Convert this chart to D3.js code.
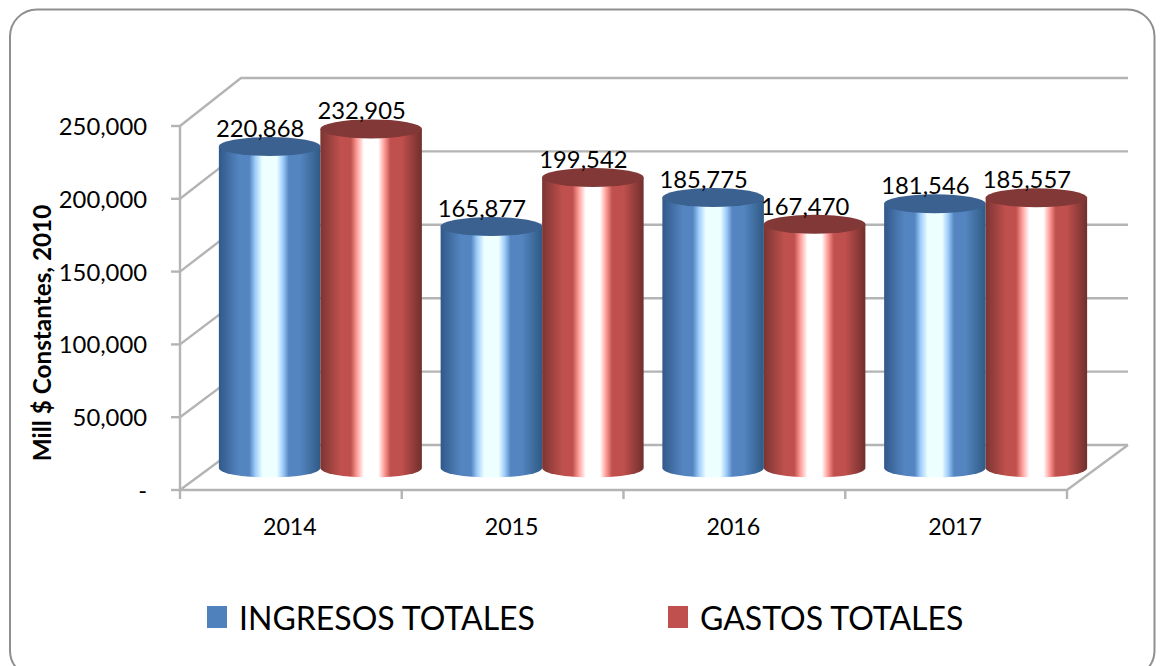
<!DOCTYPE html>
<html><head><meta charset="utf-8">
<script src="https://cdn.jsdelivr.net/npm/d3@7"></script>
<style>html,body{margin:0;padding:0;background:#fff}svg{display:block}text{font-family:Lato,"Open Sans",sans-serif;fill:#000}</style>
</head><body><svg id="c" width="1160" height="666"></svg>
<script>
const years=["2014","2015","2016","2017"];
const seriesNames=["INGRESOS TOTALES","GASTOS TOTALES"];
const ingresos=[220868,165877,185775,181546];
const gastos=[232905,199542,167470,185557];
const yTicks=[0,50000,100000,150000,200000,250000];
const yTickLabels=["-","50,000","100,000","150,000","200,000","250,000"];
const yTitle="Mill $ Constantes, 2010";
const fmt=d3.format(",");

const svg=d3.select("#c");
const depth={x:61};
const yFront=d3.scaleLinear().domain([0,250000]).range([490,126]);
const yBack=d3.scaleLinear().domain([0,250000]).range([445,78]);
const yBar=d3.scaleLinear().domain([0,250000]).range([468,104]);
const xFront=d3.scaleBand().domain(years).range([180,1067]);
const xSeries=d3.scaleBand().domain([0,1]).range([0,203]);
const ry=9.5;

const defs=svg.append("defs");
function grad(id,edgeL,mid,lite,white,edgeR){
  const g=defs.append("linearGradient").attr("id",id).attr("x1","0").attr("x2","1").attr("y1","0").attr("y2","0");
  [[0,edgeL],[.2,mid],[.30,mid],[.36,lite],[.43,white],[.57,white],[.63,lite],[.69,mid],[.8,mid],[1,edgeR]]
    .forEach(s=>g.append("stop").attr("offset",s[0]).attr("stop-color",s[1]));
}
grad("gBlue","#31588a","#5485c0","#9fcdfb","#eeffff","#2f5a85");
grad("gRed","#7b3533","#c0504d","#ff9c98","#ffffff","#702f2d");
defs.append("filter").attr("id","soft").append("feGaussianBlur").attr("stdDeviation",0.5);

// frame
svg.append("rect").attr("x",10).attr("y",9.5).attr("width",1144.5).attr("height",668).attr("rx",27).attr("ry",27)
  .attr("fill","#fff").attr("stroke","#8f8f8f").attr("stroke-width",2);

// 3D walls and floor
const grid=svg.append("g").attr("fill","none").attr("stroke","#b4b4b4").attr("stroke-width",2.4).attr("filter","url(#soft)");
const x0=xFront.range()[0],x1=xFront.range()[1];
yTicks.forEach(t=>{
  grid.append("path").attr("d",d3.line()([[x0,yFront(t)],[x0+depth.x,yBack(t)],[x1+depth.x,yBack(t)]]));
});
grid.append("path").attr("d",d3.line()([[x0,yFront(250000)],[x0,yFront(0)],[x1,yFront(0)],[x1+depth.x,yBack(0)]]));
yTicks.forEach(t=>grid.append("path").attr("d",d3.line()([[x0-9,yFront(t)],[x0,yFront(t)]])));
xFront.domain().concat(["end"]).forEach((c,i)=>{
  const x=x0+i*xFront.bandwidth();
  grid.append("path").attr("d",d3.line()([[x,yFront(0)],[x,yFront(0)+9]]));
});

// cylinders
const rows=[{v:ingresos,f:"url(#gBlue)",top:"#3a6190"},{v:gastos,f:"url(#gRed)",top:"#813836"}];
const groupStart=y=>xFront(y)+xFront.bandwidth()/2+depth.x/2-1-xSeries.range()[1]/2;
const bars=svg.append("g");
years.forEach((y,i)=>{
  const start=groupStart(y);
  rows.forEach((r,k)=>{
    const w=xSeries.bandwidth(),xl=start+xSeries(k),rx=w/2,v=r.v[i];
    const yt=yBar(v),yb=yBar(0);
    bars.append("path").attr("fill",r.f)
      .attr("d",`M${xl},${yt}L${xl},${yb}A${rx},${ry} 0 0 0 ${xl+w},${yb}L${xl+w},${yt}Z`);
    bars.append("ellipse").attr("cx",xl+rx).attr("cy",yt).attr("rx",rx).attr("ry",ry).attr("fill",r.top);
  });
});
// data labels
years.forEach((y,i)=>{
  const start=groupStart(y);
  rows.forEach((r,k)=>{
    svg.append("text").attr("x",start+xSeries(k)+xSeries.bandwidth()/2-9.5)
      .attr("y",yBar(r.v[i])-9.5).attr("text-anchor","middle").attr("font-size",23.8).text(fmt(r.v[i]));
  });
});
// axis labels
yTicks.forEach((t,i)=>{
  svg.append("text").attr("x",147).attr("y",yFront(t)+9).attr("text-anchor","end").attr("font-size",23.8).text(yTickLabels[i]);
});
years.forEach(y=>{
  svg.append("text").attr("x",xFront(y)+xFront.bandwidth()/2-1).attr("y",535).attr("text-anchor","middle").attr("font-size",23.2).text(y);
});
svg.append("text").attr("transform","translate(51,333) rotate(-90)").attr("text-anchor","middle")
  .attr("font-size",24.3).attr("font-weight",700).text(yTitle);
// legend
const legX=d3.scaleOrdinal().domain(seriesNames).range([207,668]);
const legC=d3.scaleOrdinal().domain(seriesNames).range(["#4f81bd","#c0504d"]);
seriesNames.forEach(n=>{
  svg.append("rect").attr("x",legX(n)).attr("y",606).attr("width",20).attr("height",22).attr("fill",legC(n));
  svg.append("text").attr("x",legX(n)+32).attr("y",630).attr("font-size",32).text(n);
});
</script></body></html>
